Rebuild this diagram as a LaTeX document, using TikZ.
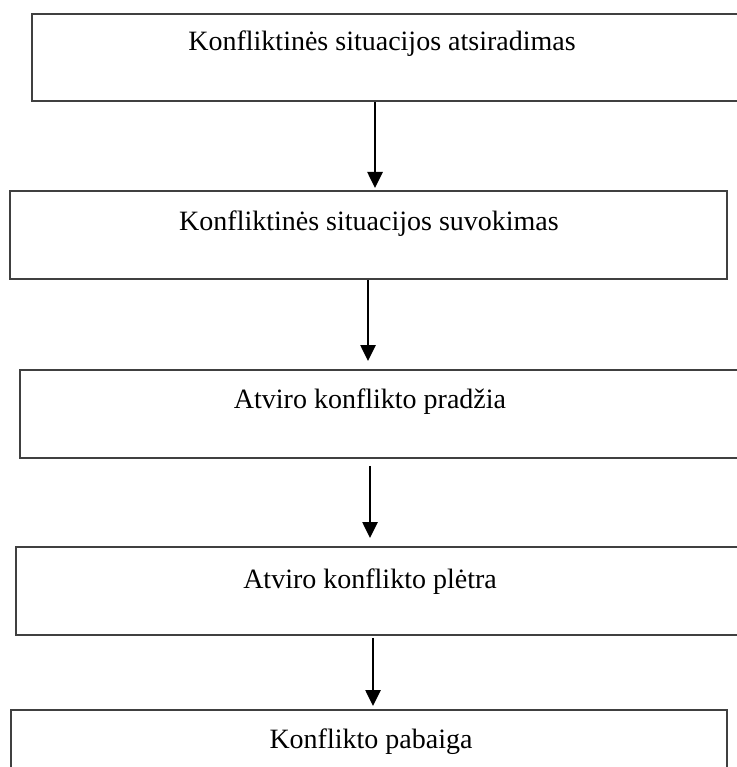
\documentclass[tikz,border=0pt]{standalone}
\usepackage{fontspec}
\setmainfont{Liberation Serif}
\usetikzlibrary{arrows.meta}
\begin{document}
\begin{tikzpicture}[x=1pt,y=-1pt,
  box/.style={draw=black!75, line width=1.8pt, inner sep=0pt, anchor=north west, rectangle},
  lbl/.style={anchor=base, inner sep=0pt, font=\fontsize{28}{34}\selectfont},
  arr/.style={line width=2.6pt, -{Triangle[width=15pt,length=16pt]}}]
\useasboundingbox (0,0) rectangle (736,767);
\node[box, minimum width=714pt, minimum height=87pt] (b1) at (31,13) {};
\node[box, minimum width=717pt, minimum height=88pt] (b2) at (9,190) {};
\node[box, minimum width=726pt, minimum height=88pt] (b3) at (19,369) {};
\node[box, minimum width=730pt, minimum height=88pt] (b4) at (15,546) {};
\node[box, minimum width=716pt, minimum height=88pt] (b5) at (10,709) {};
\node[lbl] (t1) at (382,51) {Konfliktinės situacijos atsiradimas};
\node[lbl] (t2) at (369,230) {Konfliktinės situacijos suvokimas};
\node[lbl] (t3) at (370,408) {Atviro konflikto pradžia};
\node[lbl] (t4) at (370,588) {Atviro konflikto plėtra};
\node[lbl] (t5) at (371,748) {Konflikto pabaiga};
\coordinate (x1) at (375,0);
\coordinate (x2) at (368,0);
\coordinate (x3) at (370,0);
\coordinate (x4) at (373,0);
\draw[arr, shorten >=2pt] (x1 |- b1.south) -- (x1 |- b2.north);
\draw[arr, shorten >=8pt] (x2 |- b2.south) -- (x2 |- b3.north);
\draw[arr, shorten <=7pt, shorten >=8pt] (x3 |- b3.south) -- (x3 |- b4.north);
\draw[arr, shorten <=2pt, shorten >=3pt] (x4 |- b4.south) -- (x4 |- b5.north);
\end{tikzpicture}
\end{document}
